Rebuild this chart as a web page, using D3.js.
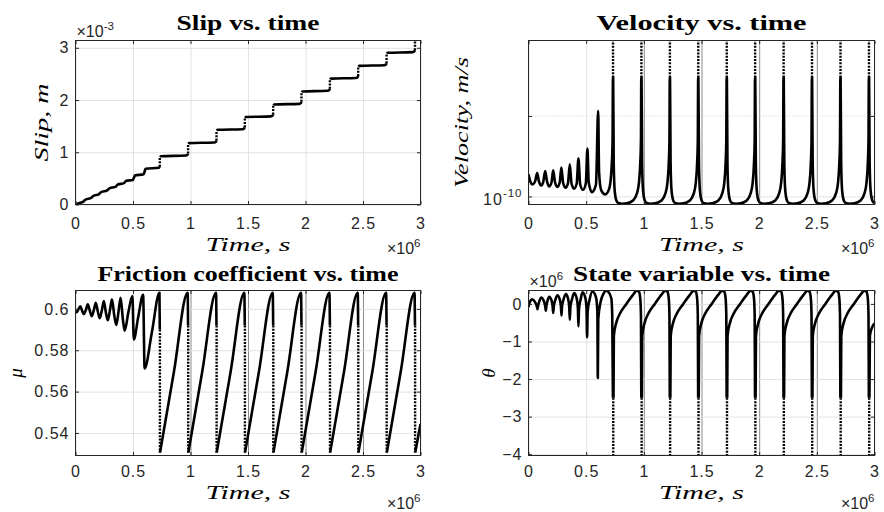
<!DOCTYPE html>
<html>
<head>
<meta charset="utf-8">
<script src="https://cdn.jsdelivr.net/npm/d3@7"></script>
<style>
  body { margin: 0; background: #fff; }
  svg { display: block; }
</style>
</head>
<body>
<svg id="fig" width="884" height="512"></svg>
<script>
// time is in units of 1e6 s in every panel
const timeTicks = [0, 0.5, 1, 1.5, 2, 2.5, 3];
const timeTickLabels = ['0', '0.5', '1', '1.5', '2', '2.5', '3'];

// Slip (x 1e-3 m); null breaks the solid line where a dotted jump is drawn
const slipTicks = [0, 1, 2, 3];
const slipPoints = [
  [0,0],[0.030,0.025],[0.068,0.055],[0.077,0.075],[0.086,0.090],[0.138,0.130],[0.147,0.150],[0.156,0.165],
  [0.205,0.200],[0.214,0.220],[0.223,0.235],[0.276,0.270],[0.286,0.292],[0.295,0.310],[0.347,0.338],
  [0.358,0.362],[0.367,0.380],[0.421,0.410],[0.433,0.437],[0.442,0.455],[0.498,0.468],[0.508,0.512],
  [0.516,0.555],[0.592,0.578],[0.601,0.632],[0.609,0.685],[0.725,0.705],[0.732,0.725],null,
  [0.735,0.910],[0.743,0.925],[0.959,0.937],[0.975,0.955],[0.978,0.975],null,
  [0.981,1.160],[0.989,1.175],[1.206,1.187],[1.222,1.205],[1.225,1.225],null,
  [1.228,1.415],[1.236,1.430],[1.452,1.442],[1.468,1.460],[1.471,1.480],null,
  [1.474,1.660],[1.482,1.675],[1.699,1.687],[1.715,1.705],[1.718,1.725],null,
  [1.721,1.900],[1.729,1.915],[1.945,1.927],[1.961,1.945],[1.964,1.965],null,
  [1.967,2.150],[1.975,2.165],[2.192,2.177],[2.208,2.195],[2.211,2.215],null,
  [2.214,2.395],[2.222,2.410],[2.438,2.422],[2.454,2.440],[2.457,2.460],null,
  [2.460,2.640],[2.468,2.655],[2.685,2.667],[2.701,2.685],[2.704,2.705],null,
  [2.707,2.890],[2.715,2.905],[2.932,2.917],[2.948,2.935],[2.951,2.955],null,
  [2.954,3.140],[2.962,3.155],[3.000,3.158]
];
// [time, from, to]
const slipJumps = [
  [0.733,0.725,0.910],[0.979,0.975,1.160],[1.226,1.225,1.415],[1.472,1.480,1.660],[1.719,1.725,1.900],
  [1.965,1.965,2.150],[2.212,2.215,2.395],[2.458,2.460,2.640],[2.705,2.705,2.890],[2.952,2.955,3.140]
];

// Velocity (x 1e-10 m/s, log axis)
const velTicks = [1];
const velMinorTicks = [10];
const velPoints = [
  [0.000,1.88],[0.012,1.60],[0.035,1.41],[0.058,1.55],[0.075,1.96],[0.090,1.55],[0.110,1.37],[0.128,1.52],
  [0.145,2.07],[0.160,1.55],[0.180,1.33],[0.200,1.50],[0.214,2.11],[0.230,1.50],[0.250,1.31],[0.270,1.48],
  [0.285,2.28],[0.300,1.48],[0.322,1.28],[0.343,1.48],[0.358,2.51],[0.373,1.45],[0.395,1.25],[0.418,1.45],
  [0.433,2.96],[0.448,1.42],[0.472,1.21],[0.497,1.45],[0.511,3.95],[0.522,1.50],[0.550,1.13],[0.585,1.40],
  [0.604,11.6],[0.612,2.0],[0.630,1.2],[0.665,1.06],[0.700,1.25],[0.722,2.5],[0.729,5.0],[0.732,30],[0.734,30],
  [0.739,2.6],[0.747,1.2],[0.762,0.89],[0.778,0.83],[0.813,0.81],[0.853,0.82],[0.906,0.89],[0.940,1.09],[0.957,1.45],[0.969,2.58],[0.975,5.0],[0.978,30],[0.980,30],
  [0.985,2.6],[0.993,1.2],[1.008,0.89],[1.024,0.83],[1.059,0.81],[1.099,0.82],[1.153,0.89],[1.187,1.09],[1.204,1.45],[1.216,2.58],[1.222,5.0],[1.225,30],[1.227,30],
  [1.232,2.6],[1.240,1.2],[1.255,0.89],[1.271,0.83],[1.306,0.81],[1.346,0.82],[1.399,0.89],[1.433,1.09],[1.450,1.45],[1.462,2.58],[1.468,5.0],[1.471,30],[1.473,30],
  [1.478,2.6],[1.486,1.2],[1.501,0.89],[1.517,0.83],[1.552,0.81],[1.592,0.82],[1.646,0.89],[1.680,1.09],[1.697,1.45],[1.709,2.58],[1.715,5.0],[1.718,30],[1.720,30],
  [1.725,2.6],[1.733,1.2],[1.748,0.89],[1.764,0.83],[1.799,0.81],[1.839,0.82],[1.892,0.89],[1.926,1.09],[1.943,1.45],[1.955,2.58],[1.961,5.0],[1.964,30],[1.966,30],
  [1.971,2.6],[1.979,1.2],[1.994,0.89],[2.010,0.83],[2.045,0.81],[2.085,0.82],[2.139,0.89],[2.173,1.09],[2.190,1.45],[2.202,2.58],[2.208,5.0],[2.211,30],[2.213,30],
  [2.218,2.6],[2.226,1.2],[2.241,0.89],[2.257,0.83],[2.292,0.81],[2.332,0.82],[2.385,0.89],[2.419,1.09],[2.436,1.45],[2.448,2.58],[2.454,5.0],[2.457,30],[2.459,30],
  [2.464,2.6],[2.472,1.2],[2.487,0.89],[2.503,0.83],[2.538,0.81],[2.578,0.82],[2.632,0.89],[2.666,1.09],[2.683,1.45],[2.695,2.58],[2.701,5.0],[2.704,30],[2.706,30],
  [2.711,2.6],[2.719,1.2],[2.734,0.89],[2.750,0.83],[2.785,0.81],[2.825,0.82],[2.879,0.89],[2.913,1.09],[2.930,1.45],[2.942,2.58],[2.948,5.0],[2.951,30],[2.953,30],
  [2.958,2.6],[2.966,1.2],[2.981,0.89],[2.997,0.83],[3.000,0.83]
];
const velJumps = [
  [0.733,30,120],[0.979,30,120],[1.226,30,120],[1.472,30,120],[1.719,30,120],
  [1.965,30,120],[2.212,30,120],[2.458,30,120],[2.705,30,120],[2.952,30,120]
];

// Friction coefficient
const muTicks = [0.54, 0.56, 0.58, 0.6];
const muTickLabels = ['0.54', '0.56', '0.58', '0.6'];
const muPoints = [
  [0.000,0.5990],[0.012,0.5984],[0.025,0.5998],[0.042,0.6012],[0.058,0.5990],[0.072,0.5975],[0.090,0.5995],
  [0.107,0.6022],[0.125,0.5990],[0.141,0.5965],[0.160,0.5995],[0.176,0.6030],[0.195,0.5985],[0.211,0.5955],
  [0.230,0.5995],[0.246,0.6038],[0.265,0.5980],[0.281,0.5945],[0.300,0.5995],[0.317,0.6046],[0.338,0.5965],
  [0.355,0.5922],[0.375,0.5990],[0.392,0.6054],[0.412,0.5950],[0.428,0.5895],[0.460,0.5985],[0.495,0.6062],
  [0.507,0.5852],[0.545,0.5960],[0.588,0.6068],[0.601,0.5712],[0.665,0.5890],[0.730,0.6078],[0.733,0.5900],null,
  [0.735,0.5305],[0.857,0.5700],[0.975,0.6078],[0.979,0.5920],null,
  [0.981,0.5305],[1.103,0.5700],[1.222,0.6078],[1.226,0.5920],null,
  [1.228,0.5305],[1.350,0.5700],[1.468,0.6078],[1.472,0.5920],null,
  [1.474,0.5305],[1.596,0.5700],[1.715,0.6078],[1.719,0.5920],null,
  [1.721,0.5305],[1.843,0.5700],[1.961,0.6078],[1.965,0.5920],null,
  [1.967,0.5305],[2.089,0.5700],[2.208,0.6078],[2.212,0.5920],null,
  [2.214,0.5305],[2.336,0.5700],[2.454,0.6078],[2.458,0.5920],null,
  [2.460,0.5305],[2.582,0.5700],[2.701,0.6078],[2.705,0.5920],null,
  [2.707,0.5305],[2.829,0.5700],[2.948,0.6078],[2.952,0.5920],null,
  [2.954,0.5305],[3.000,0.5443]
];
const muJumps = [
  [0.734,0.5900,0.5305],[0.980,0.5920,0.5305],[1.227,0.5920,0.5305],[1.473,0.5920,0.5305],[1.720,0.5920,0.5305],
  [1.966,0.5920,0.5305],[2.213,0.5920,0.5305],[2.459,0.5920,0.5305],[2.706,0.5920,0.5305],[2.953,0.5920,0.5305]
];

// State variable (x 1e6)
const thetaTicks = [-4, -3, -2, -1, 0];
const thetaPoints = [
  [0.000,-0.08],[0.010,0.04],[0.033,0.12],[0.058,0.04],[0.072,-0.06],[0.078,-0.14],[0.084,-0.04],[0.095,0.08],
  [0.110,0.17],[0.130,0.10],[0.144,-0.05],[0.150,-0.18],[0.156,-0.04],[0.165,0.08],[0.179,0.19],[0.198,0.11],
  [0.209,-0.06],[0.214,-0.24],[0.220,-0.06],[0.232,0.10],[0.251,0.23],[0.270,0.13],[0.281,-0.06],[0.286,-0.31],
  [0.291,-0.06],[0.303,0.11],[0.323,0.26],[0.343,0.14],[0.353,-0.08],[0.358,-0.42],[0.363,-0.09],[0.376,0.11],
  [0.396,0.29],[0.418,0.15],[0.428,-0.10],[0.433,-0.60],[0.438,-0.13],[0.452,0.12],[0.468,0.31],[0.492,0.17],
  [0.503,-0.12],[0.508,-0.89],[0.513,-0.20],[0.530,0.12],[0.555,0.33],[0.585,0.18],[0.597,-0.20],[0.601,-1.97],
  [0.605,-0.40],[0.625,0.05],[0.650,0.27],[0.672,0.355],[0.690,0.33],[0.718,0.15],[0.726,-0.30],[0.732,-2.50],null,
  [0.737,-2.5],[0.740,-0.85],[0.762,-0.49],[0.791,-0.27],[0.849,0.00],[0.906,0.24],[0.940,0.355],[0.957,0.33],[0.969,0.15],[0.975,-0.30],[0.978,-2.5],null,
  [0.983,-2.5],[0.986,-0.85],[1.008,-0.49],[1.037,-0.27],[1.095,0.00],[1.152,0.24],[1.187,0.355],[1.204,0.33],[1.216,0.15],[1.222,-0.30],[1.225,-2.5],null,
  [1.230,-2.5],[1.233,-0.85],[1.255,-0.49],[1.284,-0.27],[1.342,0.00],[1.399,0.24],[1.433,0.355],[1.450,0.33],[1.462,0.15],[1.468,-0.30],[1.471,-2.5],null,
  [1.476,-2.5],[1.479,-0.85],[1.501,-0.49],[1.530,-0.27],[1.588,0.00],[1.645,0.24],[1.680,0.355],[1.697,0.33],[1.709,0.15],[1.715,-0.30],[1.718,-2.5],null,
  [1.723,-2.5],[1.726,-0.85],[1.748,-0.49],[1.777,-0.27],[1.835,0.00],[1.892,0.24],[1.926,0.355],[1.943,0.33],[1.955,0.15],[1.961,-0.30],[1.964,-2.5],null,
  [1.969,-2.5],[1.972,-0.85],[1.994,-0.49],[2.023,-0.27],[2.081,0.00],[2.138,0.24],[2.173,0.355],[2.190,0.33],[2.202,0.15],[2.208,-0.30],[2.211,-2.5],null,
  [2.216,-2.5],[2.219,-0.85],[2.241,-0.49],[2.270,-0.27],[2.328,0.00],[2.385,0.24],[2.419,0.355],[2.436,0.33],[2.448,0.15],[2.454,-0.30],[2.457,-2.5],null,
  [2.462,-2.5],[2.465,-0.85],[2.487,-0.49],[2.516,-0.27],[2.574,0.00],[2.631,0.24],[2.666,0.355],[2.683,0.33],[2.695,0.15],[2.701,-0.30],[2.704,-2.5],null,
  [2.709,-2.5],[2.712,-0.85],[2.734,-0.49],[2.763,-0.27],[2.821,0.00],[2.878,0.24],[2.913,0.355],[2.930,0.33],[2.942,0.15],[2.948,-0.30],[2.951,-2.5],null,
  [2.956,-2.5],[2.960,-0.85],[2.980,-0.62],[3.000,-0.52]
];
const thetaJumps = [
  [0.735,-2.5,-4.2],[0.981,-2.5,-4.2],[1.228,-2.5,-4.2],[1.474,-2.5,-4.2],[1.721,-2.5,-4.2],
  [1.967,-2.5,-4.2],[2.214,-2.5,-4.2],[2.460,-2.5,-4.2],[2.707,-2.5,-4.2],[2.954,-2.5,-4.2]
];

const svg = d3.select('#fig');
const sansFont = '"Liberation Sans", Arial, sans-serif';
const serifFont = '"Liberation Serif", "Times New Roman", serif';
const axisColor = '#262626';
const tickFontSize = 16;

function styleTickText(sel) {
  sel.selectAll('text')
     .attr('font-family', sansFont).attr('font-size', tickFontSize)
     .attr('letter-spacing', 1).attr('fill', axisColor);
}

function drawPanel(p, idx) {
  const g = svg.append('g');
  const w = p.x1 - p.x0, h = p.y1 - p.y0;
  const x = d3.scaleLinear().domain([0, 3]).range([p.x0, p.x1]);
  const y = p.y.range([p.y1, p.y0]);

  // grid
  const gridX = g.append('g').attr('transform', `translate(0,${p.y1})`)
     .call(d3.axisBottom(x).tickValues(timeTicks).tickSize(-h).tickFormat(''));
  gridX.select('.domain').remove();
  gridX.selectAll('line')
       .attr('stroke', d => (p.darkGrid && d >= 1 && d < 3) ? '#5a5a5a' : '#e2e2e2')
       .attr('stroke-width', d => (p.darkGrid && d >= 1 && d < 3) ? 0.7 : 1);
  const gridY = g.append('g').attr('transform', `translate(${p.x0},0)`)
     .call(d3.axisLeft(y).tickValues(p.yTicks).tickSize(-w).tickFormat(''));
  gridY.select('.domain').remove();
  gridY.selectAll('line').attr('stroke', '#e2e2e2');
  if (p.yMinor) {
    p.yMinor.forEach(v => {
      g.append('line').attr('x1', p.x0).attr('x2', p.x1).attr('y1', y(v)).attr('y2', y(v))
       .attr('stroke', '#cfcfcf').attr('stroke-dasharray', '1,2');
    });
  }

  // data
  const clipId = 'clip' + idx;
  svg.append('clipPath').attr('id', clipId).append('rect')
     .attr('x', p.x0).attr('y', p.y0).attr('width', w).attr('height', h);
  const plot = g.append('g').attr('clip-path', `url(#${clipId})`);
  const line = d3.line().defined(d => d !== null)
     .x(d => x(d[0])).y(d => y(d[1])).curve(d3.curveMonotoneX);
  plot.append('path').datum(p.points).attr('d', line)
     .attr('fill', 'none').attr('stroke', '#000').attr('stroke-width', 2.6)
     .attr('stroke-linejoin', 'round');
  plot.selectAll('.jump').data(p.jumps).enter().append('line').attr('class', 'jump')
     .attr('x1', d => x(d[0])).attr('x2', d => x(d[0]))
     .attr('y1', d => y(d[1])).attr('y2', d => y(d[2]))
     .attr('stroke', '#000').attr('stroke-width', 2.4).attr('stroke-dasharray', '2,1.3');

  // axes: inward ticks on all four sides
  const tk = 3.5;
  const axB = g.append('g').attr('transform', `translate(0,${p.y1})`)
     .call(d3.axisBottom(x).tickValues(timeTicks).tickSize(-tk).tickPadding(p.xTickPad)
           .tickFormat((d, i) => timeTickLabels[i]));
  const axT = g.append('g').attr('transform', `translate(0,${p.y0})`)
     .call(d3.axisTop(x).tickValues(timeTicks).tickSize(-tk).tickFormat(''));
  const yTickAll = p.yMinor ? p.yTicks.concat(p.yMinor) : p.yTicks;
  const axL = g.append('g').attr('transform', `translate(${p.x0},0)`)
     .call(d3.axisLeft(y).tickValues(yTickAll).tickSize(-tk).tickPadding(6)
           .tickFormat(d => p.yFormat ? p.yFormat(d) : ''));
  const axR = g.append('g').attr('transform', `translate(${p.x1},0)`)
     .call(d3.axisRight(y).tickValues(yTickAll).tickSize(-tk).tickFormat(''));
  [axB, axT, axL, axR].forEach(a => {
    a.select('.domain').remove();
    a.selectAll('line').attr('stroke', axisColor);
    styleTickText(a);
  });
  g.append('rect').attr('x', p.x0).attr('y', p.y0).attr('width', w).attr('height', h)
   .attr('fill', 'none').attr('stroke', axisColor).attr('stroke-width', 1);

  // log tick label 10^-10
  if (p.logLabel) {
    const t = g.append('text').attr('x', p.x0 - 6).attr('y', y(p.logLabel.value) + 9)
       .attr('text-anchor', 'end').attr('font-family', sansFont).attr('font-size', tickFontSize)
       .attr('letter-spacing', 1).attr('fill', axisColor);
    t.append('tspan').text('10');
    t.append('tspan').attr('dy', -8).attr('font-size', 11.5).text(p.logLabel.exp);
  }

  // exponent of x axis
  const ex = g.append('text').attr('x', p.x1).attr('y', p.y1 + p.xExpDy)
     .attr('text-anchor', 'end').attr('font-family', sansFont).attr('font-size', tickFontSize)
     .attr('fill', axisColor);
  ex.append('tspan').text('\u00d710');
  ex.append('tspan').attr('dy', -7).attr('font-size', 11.5).text('6');

  // exponent of y axis
  if (p.yExp) {
    const ey = g.append('text').attr('x', p.x0 + 1).attr('y', p.y0 - 4)
       .attr('font-family', sansFont).attr('font-size', tickFontSize).attr('fill', axisColor);
    ey.append('tspan').text('\u00d710');
    ey.append('tspan').attr('dy', -7).attr('font-size', 11.5).text(p.yExp);
  }

  // title
  g.append('text').attr('x', (p.x0 + p.x1) / 2).attr('y', p.titleY)
   .attr('text-anchor', 'middle').attr('font-family', serifFont).attr('font-weight', 'bold')
   .attr('font-size', 20).attr('textLength', p.titleW).attr('lengthAdjust', 'spacingAndGlyphs')
   .text(p.title);

  // x label
  g.append('text').attr('x', (p.x0 + p.x1) / 2).attr('y', p.y1 + p.xLabelDy)
   .attr('text-anchor', 'middle').attr('font-family', serifFont).attr('font-style', 'italic')
   .attr('font-size', 19).attr('textLength', 85).attr('lengthAdjust', 'spacingAndGlyphs')
   .text('Time, s');

  // y label
  const yl = g.append('text')
   .attr('transform', `translate(${p.yLabelX},${(p.y0 + p.y1) / 2}) rotate(-90)`)
   .attr('text-anchor', 'middle').attr('font-family', serifFont).attr('font-style', 'italic')
   .attr('font-size', p.yLabelSize || 19).text(p.yLabel);
  if (p.yLabelW) yl.attr('textLength', p.yLabelW).attr('lengthAdjust', 'spacingAndGlyphs');
}

const panels = [
  { title: 'Slip vs. time', titleW: 143, titleY: 30,
    x0: 75.5, x1: 420.5, y0: 40.5, y1: 204.5,
    y: d3.scaleLinear().domain([0, 3.14]), yTicks: slipTicks, yFormat: d3.format('d'),
    points: slipPoints, jumps: slipJumps, yExp: '-3',
    yLabel: 'Slip, m', yLabelX: 48, yLabelW: 78, xTickPad: 13, xLabelDy: 46, xExpDy: 49 },
  { title: 'Velocity vs. time', titleW: 210, titleY: 30, darkGrid: true,
    x0: 528.5, x1: 874.5, y0: 40.5, y1: 204.5,
    y: d3.scaleLog().domain([Math.pow(10, -0.1), Math.pow(10, 1.9375)]),
    yTicks: velTicks, yMinor: velMinorTicks, logLabel: { value: 1, exp: '-10' },
    points: velPoints, jumps: velJumps,
    yLabel: 'Velocity, m/s', yLabelX: 468, yLabelW: 131, xTickPad: 13, xLabelDy: 46, xExpDy: 49 },
  { title: 'Friction coefficient vs. time', titleW: 301, titleY: 281, darkGrid: true,
    x0: 75.5, x1: 420.5, y0: 290.5, y1: 455.5,
    y: d3.scaleLinear().domain([0.5291, 0.6089]), yTicks: muTicks,
    yFormat: d => muTickLabels[muTicks.indexOf(d)],
    points: muPoints, jumps: muJumps,
    yLabel: '\u03bc', yLabelX: 22, xTickPad: 10, xLabelDy: 43, xExpDy: 53 },
  { title: 'State variable vs. time', titleW: 257, titleY: 281, darkGrid: true,
    x0: 528.5, x1: 874.5, y0: 290.5, y1: 455.5,
    y: d3.scaleLinear().domain([-4.035, 0.357]), yTicks: thetaTicks, yFormat: d3.format('d'),
    points: thetaPoints, jumps: thetaJumps, yExp: '6',
    yLabel: '\u03b8', yLabelX: 495, xTickPad: 10, xLabelDy: 43, xExpDy: 53 }
];

panels.forEach((p, i) => drawPanel(p, i));
</script>
</body>
</html>
